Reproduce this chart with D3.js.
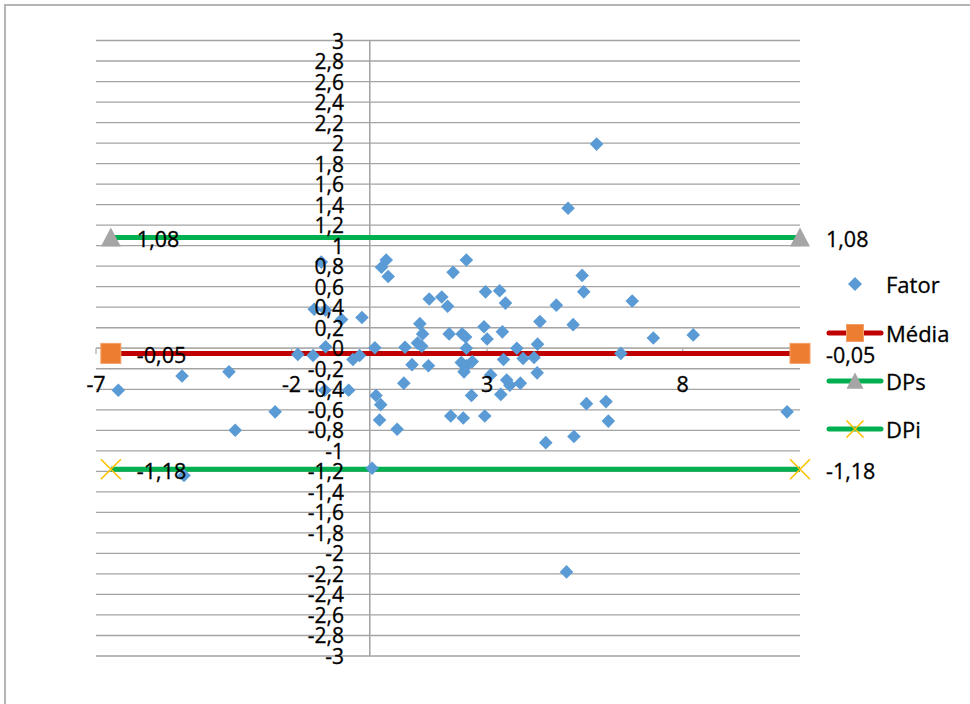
<!DOCTYPE html>
<html>
<head>
<meta charset="utf-8">
<script src="https://cdn.jsdelivr.net/npm/d3@7"></script>
<style>
  html, body { margin: 0; padding: 0; background: #ffffff; overflow: hidden; }
  svg { display: block; }
  text { font-family: "Open Sans", "Noto Sans", sans-serif; fill: #000; stroke: #000; stroke-width: 0.3px; }
</style>
</head>
<body>
<svg id="chart" width="970" height="704"></svg>
<script>
// Fator scatter values
const fatorX = [-6.43, -4.80, -3.60, -3.44, -2.42, -4.75, -1.84, -1.45, -1.13, -1.42,
  -1.13, -0.72, -0.20, -1.24, -0.43, -0.26, 0.13, -1.15, -0.54, 0.16,
  0.28, 0.25, 0.70, 0.06, 0.42, 0.30, 0.47, 0.87, 2.47, 2.13,
  1.52, 1.84, 1.99, 2.96, 3.32, 3.47, 1.28, 1.35, 1.22, 1.33,
  0.90, 2.03, 2.36, 2.45, 2.47, 2.92, 3.00, 3.39, 1.08, 1.50,
  2.34, 2.47, 2.62, 2.41, 2.60, 3.09, 3.42, 3.76, 3.92, 4.20,
  4.29, 4.28, 3.50, 3.58, 3.85, 3.35, 2.07, 2.39, 2.94, 4.35,
  4.77, 5.20, 5.43, 5.47, 6.71, 7.25, 4.50, 5.22, 5.54, 6.04,
  6.10, 6.42, 8.27, 10.67, 5.80, 5.07, 5.03];
const fatorY = [-0.41, -0.27, -0.23, -0.80, -0.62, -1.24, -0.06, -0.07, 0.015, 0.38,
  0.37, 0.28, 0.30, 0.84, -0.11, -0.07, 0.005, -0.41, -0.41, -0.46,
  -0.55, -0.70, -0.79, -1.17, 0.86, 0.79, 0.70, -0.34, 0.86, 0.74,
  0.48, 0.50, 0.41, 0.55, 0.56, 0.44, 0.24, 0.14, 0.05, 0.02,
  0.01, 0.14, 0.14, 0.11, 0.00, 0.21, 0.09, 0.16, -0.16, -0.17,
  -0.14, -0.17, -0.13, -0.23, -0.46, -0.26, -0.11, 0.00, -0.10, -0.09,
  0.04, -0.24, -0.31, -0.36, -0.34, -0.45, -0.66, -0.68, -0.66, 0.26,
  0.42, 0.23, 0.71, 0.55, 0.46, 0.10, -0.92, -0.86, -0.54, -0.52,
  -0.71, -0.05, 0.13, -0.62, 1.99, 1.365, -2.18];

// Horizontal reference series (two end points each)
const refNames = ["Média", "DPs", "DPi"];
const refValues = [-0.05, 1.08, -1.18];
const refX = [-6.62, 11];

// Axis ticks
const xTicks = [-7, -2, 3, 8];
const yTicks = d3.range(-15, 16).map(k => k / 5);

const legendNames = ["Fator", "Média", "DPs", "DPi"];

const commaFmt = v => String(+v.toFixed(2)).replace(".", ",");

const svg = d3.select("#chart");
const x = d3.scaleLinear().domain([-7, 11]).range([96, 800]);
const y = d3.scaleLinear().domain([-3, 3]).range([656, 40.5]);

// outer chart frame
svg.append("rect").attr("x", 5).attr("y", 5).attr("width", 1000).attr("height", 1000)
  .attr("fill", "none").attr("stroke", "#b4b4b4").attr("stroke-width", 2);

// horizontal gridlines
svg.append("g").selectAll("line").data(yTicks).join("line")
  .attr("x1", x(-7)).attr("x2", x(11))
  .attr("y1", d => y(d)).attr("y2", d => y(d))
  .attr("stroke", "#a3a3a3").attr("stroke-width", 1.3);

// vertical axis at x = 0
svg.append("line").attr("x1", x(0)).attr("x2", x(0)).attr("y1", y(3)).attr("y2", y(-3))
  .attr("stroke", "#a3a3a3").attr("stroke-width", 1.5);
// horizontal axis at y = 0 with its tick marks
svg.append("line").attr("x1", x(-7)).attr("x2", x(11)).attr("y1", y(0)).attr("y2", y(0))
  .attr("stroke", "#b0b0b0").attr("stroke-width", 1.3);
svg.append("g").selectAll("line").data(xTicks).join("line")
  .attr("x1", d => x(d)).attr("x2", d => x(d)).attr("y1", y(0)).attr("y2", y(0) + 6)
  .attr("stroke", "#b0b0b0").attr("stroke-width", 1.3);

const colors = { "Média": "#C00000", "DPs": "#00B050", "DPi": "#00B050" };

// reference lines
const refLayer = svg.append("g");
refNames.forEach((name, i) => {
  refLayer.append("path")
    .attr("d", d3.line()(refX.map(v => [x(v), y(refValues[i])])))
    .attr("stroke", colors[name]).attr("stroke-width", 5).attr("fill", "none");
});

// diamond markers
const diamond = r => `M0,${-r}L${r},0L0,${r}L${-r},0Z`;
svg.append("g").selectAll("path").data(fatorX.map((v, i) => [v, fatorY[i]])).join("path")
  .attr("transform", d => `translate(${x(d[0])},${y(d[1])})`)
  .attr("d", diamond(6.8))
  .attr("fill", "#5B9BD5");

// end markers
function marker(g, name, cx, cy, s) {
  if (name === "Média") {
    g.append("rect").attr("x", cx - s / 2).attr("y", cy - s / 2).attr("width", s).attr("height", s)
      .attr("fill", "#ED7D31").attr("stroke", "#f4a06a").attr("stroke-width", 1);
  } else if (name === "DPs") {
    g.append("path").attr("d", `M${cx},${cy - s * 0.5}L${cx + s * 0.5},${cy + s * 0.45}L${cx - s * 0.5},${cy + s * 0.45}Z`)
      .attr("fill", "#A5A5A5");
  } else {
    const h = s / 2;
    g.append("path").attr("d", `M${cx - h},${cy - h}L${cx + h},${cy + h}M${cx - h},${cy + h}L${cx + h},${cy - h}`)
      .attr("stroke", "#FFC000").attr("stroke-width", 1.6).attr("fill", "none");
  }
}
const markLayer = svg.append("g");
refNames.forEach((name, i) => {
  refX.forEach(v => marker(markLayer, name, x(v), y(refValues[i]), 20));
});

// data labels at both ends
const labelLayer = svg.append("g");
refNames.forEach((name, i) => {
  refX.forEach(v => {
    labelLayer.append("text")
      .attr("x", x(v) + 26).attr("y", y(refValues[i]) + 1.5)
      .attr("dominant-baseline", "central")
      .attr("font-size", 21.5)
      .text(commaFmt(refValues[i]));
  });
});

// y tick labels
svg.append("g").selectAll("text").data(yTicks).join("text")
  .attr("x", 344).attr("y", d => y(d))
  .attr("text-anchor", "end").attr("dominant-baseline", "central")
  .attr("font-size", 21)
  .text(d => commaFmt(d));

// x tick labels
svg.append("g").selectAll("text").data(xTicks).join("text")
  .attr("x", d => x(d)).attr("y", y(0) + 35)
  .attr("text-anchor", "middle").attr("dominant-baseline", "central")
  .attr("font-size", 21.5)
  .text(d => String(d));

// legend
const legendY = [284, 333, 381, 429];
const legend = svg.append("g");
legendNames.forEach((name, i) => {
  const ly = legendY[i];
  if (name === "Fator") {
    legend.append("path").attr("transform", `translate(855,${ly})`).attr("d", diamond(7)).attr("fill", "#5B9BD5");
  } else {
    legend.append("line").attr("x1", 829).attr("x2", 881).attr("y1", ly).attr("y2", ly)
      .attr("stroke", colors[name]).attr("stroke-width", 5).attr("stroke-linecap", "round");
    marker(legend, name, 855, ly, 17);
  }
  legend.append("text").attr("x", 886).attr("y", ly)
    .attr("dominant-baseline", "central").attr("font-size", 22).text(name);
});
</script>
</body>
</html>
